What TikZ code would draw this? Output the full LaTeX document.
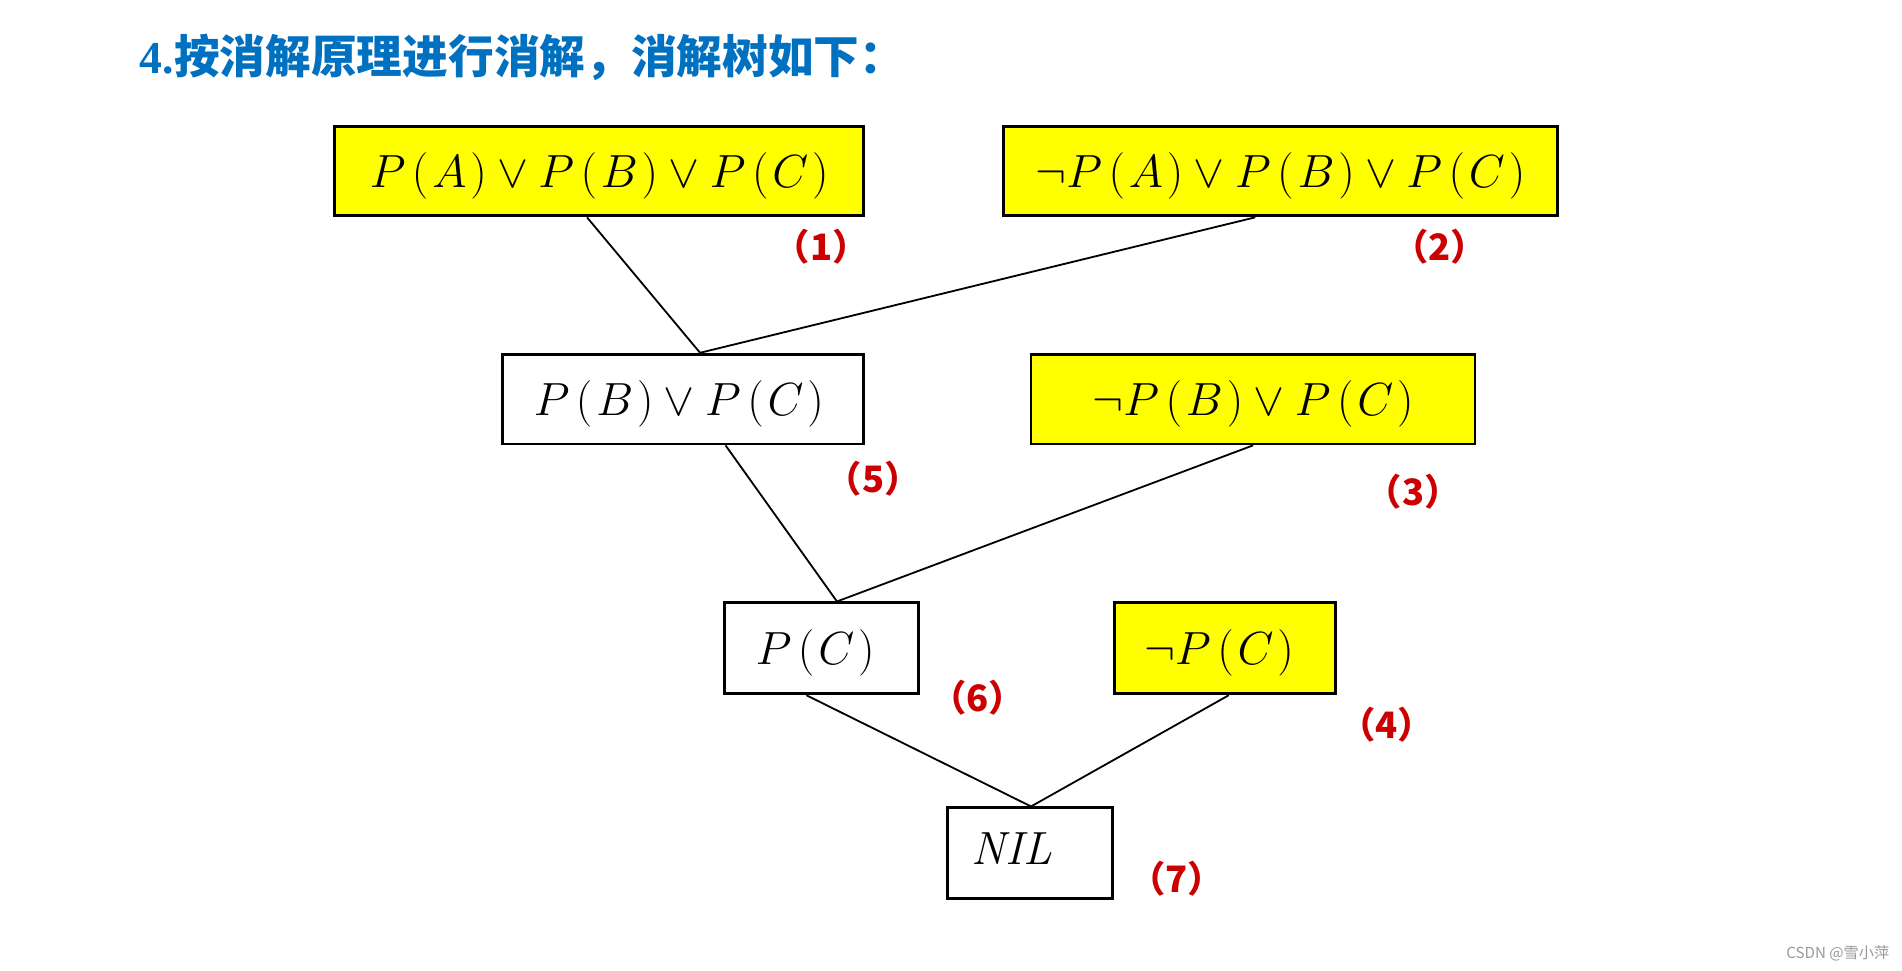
\RequirePackage{fix-cm}
\documentclass[tikz,border=0pt]{standalone}
\usepackage{fontspec}
\newfontfamily\cjk{Noto Sans CJK SC}
\newfontfamily\serifb{Liberation Serif}
\usetikzlibrary{calc}
\definecolor{titleblue}{HTML}{0070C0}
\definecolor{labred}{HTML}{CC0000}
\definecolor{boxyellow}{HTML}{FFFF00}
\definecolor{markgray}{HTML}{999999}
\newcommand{\PP}[1]{P\mkern2.5mu(\mkern1.5mu #1\mkern1.5mu)}
\begin{document}
\begin{tikzpicture}[x=0.6pt,y=-0.6pt,
  box/.style={draw=black, line width=1.4pt, minimum height=44.4pt, inner sep=0pt,
    text height=20pt, text depth=3.7pt, font=\fontsize{23}{26}\selectfont},
  yel/.style={box, fill=boxyellow},
  wht/.style={box, fill=white},
  lab/.style={text=labred, inner sep=0pt, font=\cjk\bfseries\fontsize{18}{21}\selectfont},
  edge/.style={line width=0.9pt}]
\useasboundingbox[fill=white] (0,0) rectangle (1568,800);

\node[anchor=west, inner sep=0pt, text=titleblue,
  font=\cjk\bfseries\fontsize{22.6}{25}\selectfont] (title) at (115,47)
  {{\serifb\bfseries 4.}按消解原理进行消解，消解树如下：};

\node[yel, minimum width=261.6pt] (b1) at (494,141) {$\PP{A}\vee\PP{B}\vee\PP{C}$};
\node[yel, minimum width=274.2pt] (b2) at (1055.5,141) {$\neg\PP{A}\vee\PP{B}\vee\PP{C}$};
\node[wht, minimum width=178.8pt] (b5) at (563,329) {$\PP{B}\vee\PP{C}$\hspace*{4pt}};
\node[yel, minimum width=219.6pt] (b3) at (1033,329) {$\neg\PP{B}\vee\PP{C}$};
\node[wht, minimum width=96pt, minimum height=45pt] (b6) at (677,534.5) {$\PP{C}$\hspace*{6pt}};
\node[yel, minimum width=109.2pt, minimum height=45pt] (b4) at (1010,534.5) {$\neg\PP{C}$\hspace*{6pt}};
\node[wht, minimum width=81.6pt, minimum height=45pt, text height=16pt, text depth=4.5pt] (b7) at (849,703.5) {$\mathit{NIL}$\hspace*{18pt}};

\node[lab] (l1) at (677,203) {（1）};
\node[lab] (l2) at (1187,203) {（2）};
\node[lab] (l5) at (720,395) {（5）};
\node[lab] (l3) at (1165,405) {（3）};
\node[lab] (l6) at (806,575) {（6）};
\node[lab] (l4) at (1143,597) {（4）};
\node[lab] (l7) at (970,724) {（7）};

\coordinate (b1s) at ($(b1.south west)!0.477!(b1.south east)$);
\coordinate (b2s) at ($(b2.south west)!0.455!(b2.south east)$);
\coordinate (b5n) at ($(b5.north west)!0.547!(b5.north east)$);
\coordinate (b5s) at ($(b5.south west)!0.617!(b5.south east)$);
\coordinate (b3s) at ($(b3.south west)!0.5!(b3.south east)$);
\coordinate (b6n) at ($(b6.north west)!0.58!(b6.north east)$);
\coordinate (b6s) at ($(b6.south west)!0.425!(b6.south east)$);
\coordinate (b4s) at ($(b4.south west)!0.516!(b4.south east)$);
\coordinate (b7n) at ($(b7.north west)!0.507!(b7.north east)$);

\draw[edge] (b1s) -- (b5n);
\draw[edge] (b2s) -- (b5n);
\draw[edge] (b5s) -- (b6n);
\draw[edge] (b3s) -- (b6n);
\draw[edge] (b6s) -- (b7n);
\draw[edge] (b4s) -- (b7n);

\node[text=markgray, inner sep=0pt, font=\cjk\fontsize{7.5}{9}\selectfont] (mark) at (1515,786) {CSDN @雪小萍};
\end{tikzpicture}
\end{document}
